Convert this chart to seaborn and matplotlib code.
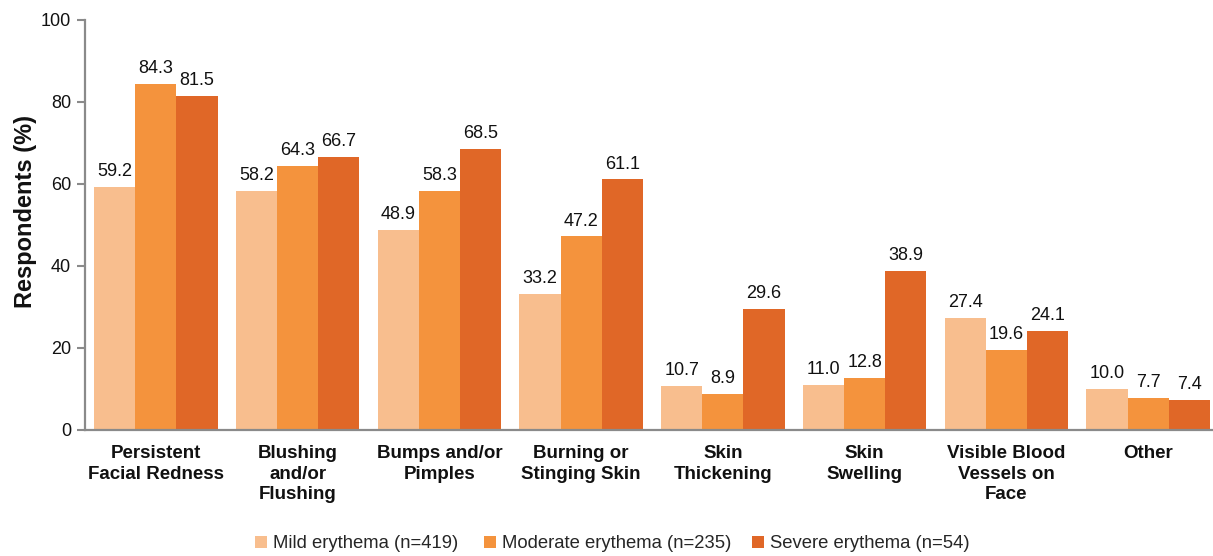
import matplotlib
matplotlib.use("Agg")
import matplotlib.pyplot as plt
import seaborn as sns
import pandas as pd
import numpy as np

categories = [
    "Persistent\nFacial Redness",
    "Blushing\nand/or\nFlushing",
    "Bumps and/or\nPimples",
    "Burning or\nStinging Skin",
    "Skin\nThickening",
    "Skin\nSwelling",
    "Visible Blood\nVessels on\nFace",
    "Other",
]
series_names = [
    "Mild erythema (n=419)",
    "Moderate erythema (n=235)",
    "Severe erythema (n=54)",
]
mild = [59.2, 58.2, 48.9, 33.2, 10.7, 11.0, 27.4, 10.0]
moderate = [84.3, 64.3, 58.3, 47.2, 8.9, 12.8, 19.6, 7.7]
severe = [81.5, 66.7, 68.5, 61.1, 29.6, 38.9, 24.1, 7.4]
y_ticks = [0, 20, 40, 60, 80, 100]

colors = ["#F8BE8E", "#F4933D", "#E06727"]

df = pd.DataFrame({
    "category": categories * 3,
    "group": [series_names[0]] * 8 + [series_names[1]] * 8 + [series_names[2]] * 8,
    "value": mild + moderate + severe,
})

sns.set_style("white")
plt.rcParams["font.family"] = ["Liberation Sans", "DejaVu Sans"]

fig = plt.figure(figsize=(12.13, 5.56), dpi=100)
W, H = 1213, 556
ax = fig.add_axes([85 / W, 1 - 430 / H, (1219 - 85) / W, (430 - 20) / H])

sns.barplot(data=df, x="category", y="value", hue="group", order=categories,
            hue_order=series_names, palette=colors, width=0.87, saturation=1,
            edgecolor="none", linewidth=0, ax=ax, legend=True)

for cont in ax.containers:
    ax.bar_label(cont, fmt="%.1f", padding=5, fontsize=13, color="#111111")

ax.set_ylim(0, 100)
ax.set_xlim(-0.5, 7.5)
ax.set_yticks(y_ticks)
ax.set_yticklabels([str(t) for t in y_ticks], fontsize=13, color="#111111")
ax.set_ylabel("Respondents (%)", fontsize=17, fontweight="bold", color="#111111", labelpad=2.5)
ax.yaxis.label.set_y(0.532)
ax.set_xlabel("")

# group labels centered; tick marks at group boundaries
ax.set_xticks(range(len(categories)))
ax.set_xticklabels(categories, fontsize=13.5, fontweight="bold", color="#111111",
                   linespacing=1.27)
ax.tick_params(axis="x", which="major", length=0, pad=11)
ax.set_xticks(np.arange(-0.5, 7.5, 1.0), minor=True)
ax.tick_params(axis="x", which="minor", length=6, width=1.5, color="#8a8a8a", direction="out")
ax.tick_params(axis="y", which="major", length=6, width=1.5, color="#8a8a8a",
               direction="out", left=True, pad=4)

for s in ["top", "right"]:
    ax.spines[s].set_visible(False)
for s in ["left", "bottom"]:
    ax.spines[s].set_color("#8a8a8a")
    ax.spines[s].set_linewidth(1.6)

# legend row below the chart, one entry per series
handles, labels = ax.get_legend_handles_labels()
ax.get_legend().remove()
legend_x = [255, 484, 752]
for h, lab, lx in zip(handles, labels, legend_x):
    leg = fig.legend([h], [lab], loc="center left", bbox_to_anchor=(lx / W, 1 - 544 / H),
                     frameon=False, fontsize=13.3, handlelength=0.65, handleheight=0.65,
                     handletextpad=0.3, borderpad=0, borderaxespad=0)

fig.savefig("out.png", dpi=100)
